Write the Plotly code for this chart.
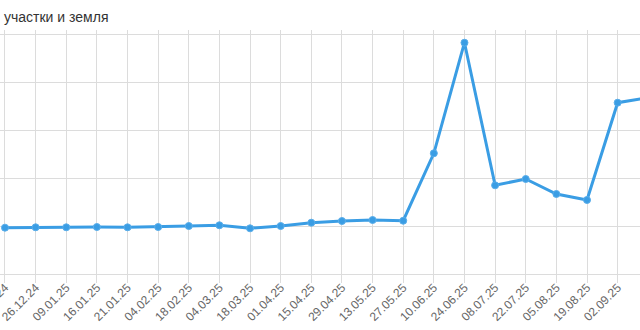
import plotly.graph_objects as go

dates = ["12.12.24", "26.12.24", "09.01.25", "16.01.25", "21.01.25", "04.02.25",
         "18.02.25", "04.03.25", "18.03.25", "01.04.25", "15.04.25", "29.04.25",
         "13.05.25", "27.05.25", "10.06.25", "24.06.25", "08.07.25", "22.07.25",
         "05.08.25", "19.08.25", "02.09.25", "16.09.25"]
values = [96.5, 97.3, 97.3, 97.9, 97.3, 97.9, 100.0, 101.5, 95.2, 100.0, 106.9,
          110.4, 112.5, 111.0, 251.5, 481.9, 184.8, 197.9, 166.7, 154.2, 356.9, 367.7]
title_text = "участки и земля"

fig = go.Figure()
fig.add_trace(go.Scatter(
    x=dates, y=values, mode="lines+markers",
    line=dict(color="#3a9de4", width=3),
    marker=dict(color="#3a9de4", size=7, line=dict(color="#5aaeea", width=1)),
    cliponaxis=False, showlegend=False,
))

grid = "#dcdcdc"
fig.update_layout(
    width=640, height=330,
    margin=dict(l=0, r=0, t=30, b=56, autoexpand=False),
    paper_bgcolor="white", plot_bgcolor="white",
    font=dict(family="Liberation Sans, Arial, sans-serif"),
    xaxis=dict(
        type="category", range=[-0.163, 20.73], automargin=False,
        showgrid=True, gridcolor=grid, gridwidth=1,
        ticks="outside", ticklen=8, tickcolor=grid, tickwidth=1,
        ticklabelstandoff=-7,
        tickangle=-45, tickfont=dict(size=12, color="#666666"),
        showline=True, linecolor=grid, linewidth=1, zeroline=False,
    ),
    yaxis=dict(
        range=[0, 508.33], dtick=100, showgrid=True, gridcolor=grid,
        gridwidth=1, showticklabels=False, zeroline=False, showline=False,
        automargin=False,
    ),
    annotations=[dict(
        text=title_text, xref="paper", yref="paper", x=0, y=1.053,
        xanchor="left", yanchor="middle", xshift=2, showarrow=False,
        font=dict(size=14, color="#333333"),
    )],
)

fig.write_html("out.html")
